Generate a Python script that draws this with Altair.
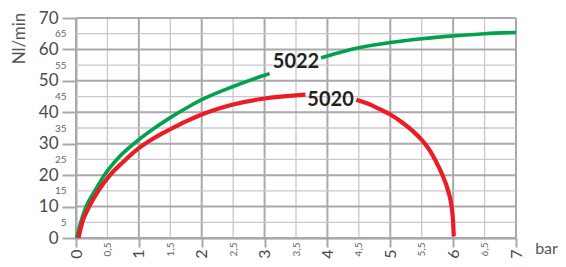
import altair as alt
import pandas as pd

# --- data ---
green_x = [0.01, 0.075, 0.16, 0.3, 0.45, 0.65, 1, 1.25, 1.5, 1.75, 2, 2.5, 3, 3.08,
           3.9, 4, 4.5, 5, 5.5, 6, 6.5, 7]
green_y = [0, 5, 10, 15, 20, 25, 31.3, 35.0, 38.3, 41.3, 44.0, 48.2, 51.8, 52.3,
           57.3, 57.9, 60.5, 62.2, 63.4, 64.3, 65.0, 65.4]
green_seg = [0] * 14 + [1] * 8

red_x = [0.04, 0.1, 0.21, 0.355, 0.54, 0.75, 1, 1.25, 1.5, 1.75, 2, 2.5, 3, 3.5, 3.65,
         4.46, 4.65, 4.83, 5, 5.2, 5.36, 5.5, 5.62, 5.71, 5.83, 5.92, 5.975, 6.0, 6.01]
red_y = [0, 5, 10, 15, 20, 24.2, 28.6, 31.9, 34.6, 37.1, 39.3, 42.5, 44.4, 45.4, 45.6,
         44.0, 42.7, 41.0, 39.3, 36.6, 34.0, 31.2, 28.1, 25, 20, 15, 10, 5, 0.5]
red_seg = [0] * 15 + [1] * 14

labels = ["5022", "5020"]
label_x = [3.5, 4.05]
label_y = [56.0, 44.0]

x_ticks = [i * 0.5 for i in range(15)]
y_ticks = [i * 5 for i in range(15)]

GREEN = "#00a24b"
RED = "#ec1c24"
MAJ = "#a9a9ad"
MIN = "#c8c8cc"

rows = []
for i, (x, y, s) in enumerate(zip(green_x, green_y, green_seg)):
    rows.append({"x": x, "y": y, "series": "5022", "seg": f"g{s}", "i": i})
for i, (x, y, s) in enumerate(zip(red_x, red_y, red_seg)):
    rows.append({"x": x, "y": y, "series": "5020", "seg": f"r{s}", "i": i})
df = pd.DataFrame(rows)
lab = pd.DataFrame({"t": labels, "x": label_x, "y": label_y})
vgrid = pd.DataFrame({"x": x_ticks, "major": [v % 1 == 0 for v in x_ticks]})
hgrid = pd.DataFrame({"y": y_ticks, "major": [v % 10 == 0 for v in y_ticks]})

FONT = "Lato"

x_axis = alt.Axis(
    values=x_ticks,
    labelExpr="replace(toString(datum.value), '.', ',')",
    labelAngle=270,
    labelFont=FONT,
    labelFontSize={"condition": {"test": "datum.value % 1 === 0", "value": 16}, "value": 10},
    labelColor={"condition": {"test": "datum.value % 1 === 0", "value": "#4a4a4a"}, "value": "#666666"},
    labelPadding={"condition": {"test": "datum.value % 1 === 0", "value": 2}, "value": 4},
    tickSize={"condition": {"test": "datum.value % 1 === 0", "value": 9}, "value": 0},
    tickColor=MAJ,
    tickWidth=2,
    grid=False,
    domainColor="#9a9a9e",
    domainWidth=2,
    labelOverlap=False,
    labelFlush=False,
    title="bar",
    titleFont=FONT,
    titleFontSize=16,
    titleFontWeight="normal",
    titleColor="#555555",
    titleX=470,
    titleY=15,
    titleAlign="center",
    titleBaseline="alphabetic",
)

y_axis = alt.Axis(
    values=y_ticks,
    labelFont=FONT,
    labelFontSize={"condition": {"test": "datum.value % 10 === 0", "value": 17}, "value": 10},
    labelColor={"condition": {"test": "datum.value % 10 === 0", "value": "#4a4a4a"}, "value": "#666666"},
    labelPadding={"condition": {"test": "datum.value % 10 === 0", "value": 4}, "value": 10},
    tickSize={"condition": {"test": "datum.value % 10 === 0", "value": 14}, "value": 0},
    tickColor=MAJ,
    tickWidth=2,
    grid=False,
    domainColor=MAJ,
    domainWidth=2,
    labelOverlap=False,
    labelFlush=False,
    title="Nl/min",
    titleFont=FONT,
    titleFontSize=17,
    titleFontWeight="normal",
    titleColor="#555555",
    titleAngle=270,
    titleX=-57,
    titleY=20,
    titleAlign="center",
    titleBaseline="middle",
)

xs = alt.Scale(domain=[0, 7], nice=False, zero=False)
ys = alt.Scale(domain=[0, 70], nice=False, zero=False)

vrules = alt.Chart(vgrid).mark_rule().encode(
    x=alt.X("x:Q", scale=xs, axis=x_axis),
    y=alt.datum(0, scale=ys, axis=y_axis, type="quantitative"),
    y2=alt.datum(70),
    color=alt.condition("datum.major", alt.value(MAJ), alt.value(MIN)),
    strokeWidth=alt.condition("datum.major", alt.value(2), alt.value(1.3)),
)

hrules = alt.Chart(hgrid).mark_rule().encode(
    y=alt.Y("y:Q", scale=ys, axis=y_axis),
    x=alt.datum(0, scale=xs, axis=x_axis, type="quantitative"),
    x2=alt.datum(7),
    color=alt.condition("datum.major", alt.value(MAJ), alt.value(MIN)),
    strokeWidth=alt.condition("datum.major", alt.value(2), alt.value(1.3)),
)

lines = alt.Chart(df).mark_line(interpolate="monotone", strokeCap="butt").encode(
    x=alt.X("x:Q", scale=xs, axis=x_axis),
    y=alt.Y("y:Q", scale=ys, axis=y_axis),
    color=alt.Color("series:N", scale=alt.Scale(domain=["5022", "5020"], range=[GREEN, RED]), legend=None),
    strokeWidth=alt.StrokeWidth("series:N", scale=alt.Scale(domain=["5022", "5020"], range=[3.6, 4.2]), legend=None),
    detail="seg:N",
    order="i:Q",
)

texts = alt.Chart(lab).mark_text(font=FONT, fontWeight="bold", fontSize=20, color="#231f20").encode(
    x=alt.X("x:Q", scale=xs, axis=x_axis),
    y=alt.Y("y:Q", scale=ys, axis=y_axis),
    text="t:N",
)

chart = alt.layer(vrules, hrules, lines, texts).properties(
    width=440,
    height=220,
    autosize=alt.AutoSizeParams(type="none"),
    padding={"left": 68, "top": 10, "right": 42, "bottom": 21},
).configure_view(stroke=None)

chart.save("out.html", embed_options={"renderer": "svg", "actions": False})
